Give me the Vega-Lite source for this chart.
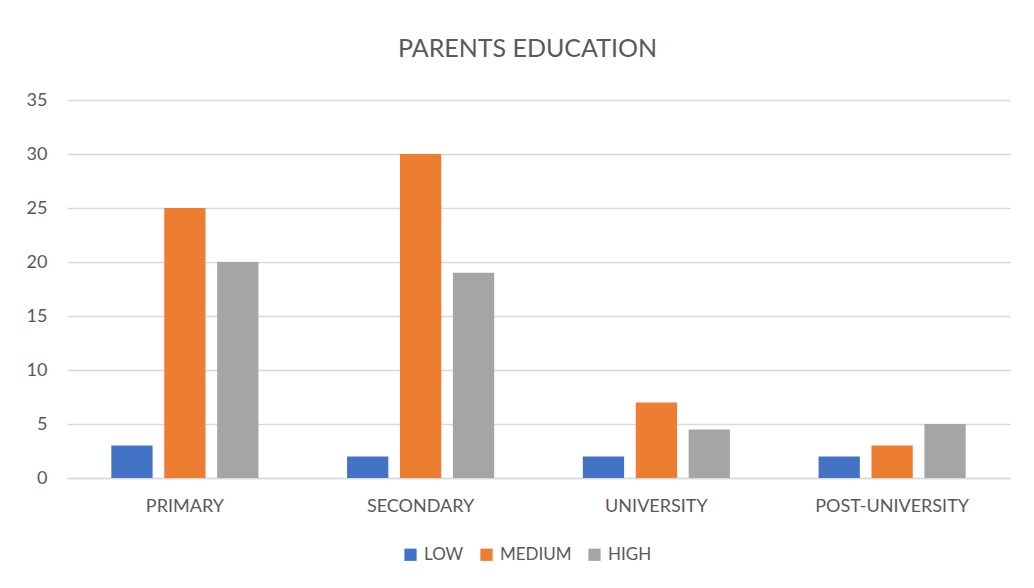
{
  "$schema": "https://vega.github.io/schema/vega-lite/v6.json",
  "width": 943,
  "height": 378,
  "autosize": {"type": "none"},
  "padding": {"left": 67, "top": 100, "right": 24, "bottom": 110},
  "background": "white",
  "title": {
    "text": "PARENTS EDUCATION",
    "font": "Lato",
    "fontSize": 25,
    "fontWeight": "normal",
    "color": "#595959",
    "anchor": "middle",
    "dx": -11,
    "offset": 29
  },
  "data": {
    "values": [
      {"level": "PRIMARY", "group": "LOW", "value": 3},
      {"level": "PRIMARY", "group": "MEDIUM", "value": 25},
      {"level": "PRIMARY", "group": "HIGH", "value": 20},
      {"level": "SECONDARY", "group": "LOW", "value": 2},
      {"level": "SECONDARY", "group": "MEDIUM", "value": 30},
      {"level": "SECONDARY", "group": "HIGH", "value": 19},
      {"level": "UNIVERSITY", "group": "LOW", "value": 2},
      {"level": "UNIVERSITY", "group": "MEDIUM", "value": 7},
      {"level": "UNIVERSITY", "group": "HIGH", "value": 4.5},
      {"level": "POST-UNIVERSITY", "group": "LOW", "value": 2},
      {"level": "POST-UNIVERSITY", "group": "MEDIUM", "value": 3},
      {"level": "POST-UNIVERSITY", "group": "HIGH", "value": 5}
    ]
  },
  "mark": {"type": "bar"},
  "encoding": {
    "x": {
      "field": "level",
      "type": "nominal",
      "sort": ["PRIMARY", "SECONDARY", "UNIVERSITY", "POST-UNIVERSITY"],
      "scale": {"paddingInner": 0.376, "paddingOuter": 0.188},
      "axis": {
        "title": null,
        "labelAngle": 0,
        "ticks": false,
        "domainColor": "#d9d9d9",
        "domainWidth": 1.5,
        "labelPadding": 19,
        "labelFont": "Lato",
        "labelFontSize": 18,
        "labelColor": "#595959"
      }
    },
    "xOffset": {
      "field": "group",
      "type": "nominal",
      "sort": ["LOW", "MEDIUM", "HIGH"],
      "scale": {"paddingInner": 0.22, "paddingOuter": 0}
    },
    "y": {
      "field": "value",
      "type": "quantitative",
      "scale": {"domain": [0, 35]},
      "axis": {
        "title": null,
        "values": [0, 5, 10, 15, 20, 25, 30, 35],
        "domain": false,
        "ticks": false,
        "gridColor": "#d9d9d9",
        "gridWidth": 1.5,
        "labelPadding": 20,
        "labelFont": "Lato",
        "labelFontSize": 18,
        "labelColor": "#595959"
      }
    },
    "color": {
      "field": "group",
      "type": "nominal",
      "sort": ["LOW", "MEDIUM", "HIGH"],
      "scale": {"domain": ["LOW", "MEDIUM", "HIGH"], "range": ["#4472C4", "#ED7D31", "#A5A5A5"]},
      "legend": {
        "title": null,
        "orient": "none",
        "legendX": 335,
        "legendY": 446,
        "direction": "horizontal",
        "symbolType": "square",
        "symbolSize": 150,
        "symbolStrokeWidth": 0,
        "symbolOffset": 0,
        "labelOffset": 5,
        "labelFont": "Lato",
        "labelFontSize": 17,
        "labelColor": "#595959",
        "columnPadding": 14
      }
    }
  },
  "config": {
    "view": {"stroke": null}
  }
}
